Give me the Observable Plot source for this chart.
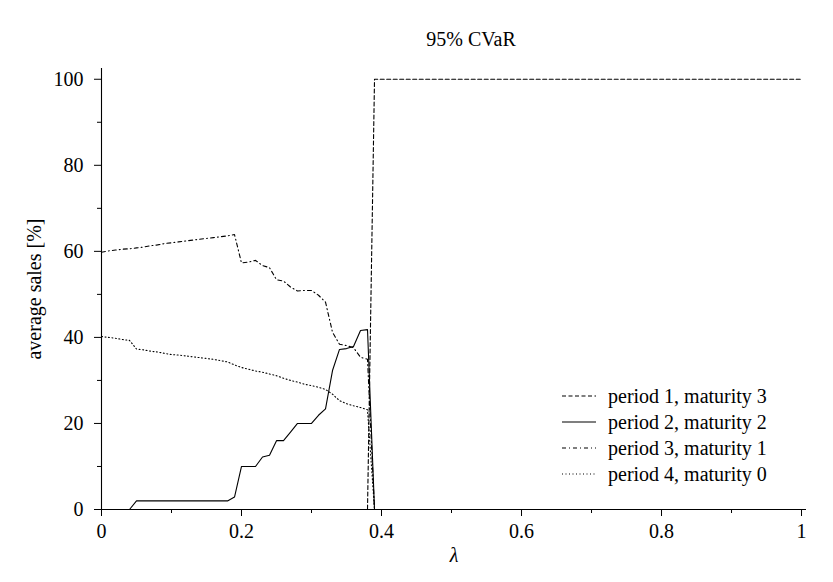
<!DOCTYPE html>
<html>
<head>
<meta charset="utf-8">
<script src="https://cdn.jsdelivr.net/npm/d3@7"></script>
<script src="https://cdn.jsdelivr.net/npm/@observablehq/plot@0.6"></script>
<style>
  html, body { margin: 0; padding: 0; background: #fff; }
  #wrap { position: relative; width: 833px; height: 582px; }
  #legend { position: absolute; left: 561px; top: 383px; font-family: "Liberation Serif", serif; font-size: 20px; color: #000; }
  #legend .row { display: flex; align-items: center; height: 26px; }
  #legend svg { margin-right: 11px; }
</style>
</head>
<body>
<div id="wrap"><div id="chart"></div><div id="legend"></div></div>
<script>
const lambdas = [0,0.01,0.02,0.03,0.04,0.05,0.06,0.07,0.08,0.09,0.10,0.11,0.12,0.13,0.14,0.15,0.16,0.17,0.18,0.19,0.20,0.21,0.22,0.23,0.24,0.25,0.26,0.27,0.28,0.29,0.30,0.31,0.32,0.33,0.34,0.35,0.36,0.37,0.38,0.39,1.0];
const period1 = [0,0,0,0,0,0,0,0,0,0,0,0,0,0,0,0,0,0,0,0,0,0,0,0,0,0,0,0,0,0,0,0,0,0,0,0,0,0,0,100,100];
const period2 = [0,0,0,0,0,2,2,2,2,2,2,2,2,2,2,2,2,2,2,2.9,10,10,10,12.2,12.6,16,16,18,20,20,20,21.9,23.4,32.3,37.2,37.4,37.9,41.6,41.8,0,0];
const period3 = [59.8,60.1,60.3,60.5,60.6,60.8,61.0,61.3,61.5,61.8,62.0,62.2,62.4,62.6,62.8,63.0,63.2,63.4,63.6,63.9,57.3,57.5,57.9,56.7,56.2,53.4,53.1,51.7,50.8,50.9,50.9,49.8,48.2,41.2,38.4,38.1,37.6,35.4,34.9,0,0];
const period4 = [40.2,40.0,39.8,39.5,39.3,37.3,37.1,36.8,36.6,36.3,36.0,35.9,35.7,35.5,35.3,35.1,34.9,34.6,34.3,33.6,33.0,32.6,32.2,31.9,31.5,31.1,30.5,30.0,29.6,29.1,28.8,28.4,27.9,26.8,25.3,24.6,24.1,23.7,23.2,0,0];
const seriesNames = ["period 1, maturity 3","period 2, maturity 2","period 3, maturity 1","period 4, maturity 0"];
const seriesDash = ["4,2.5", null, "4,3,1,3", "1,2.5"];
const xMajor = [0,0.2,0.4,0.6,0.8,1];
const xMinor = [0.1,0.3,0.5,0.7,0.9];
const yMajor = [0,20,40,60,80,100];
const yMinor = [10,30,50,70,90];
const titleText = "95% CVaR";
const xLabel = "λ";
const yLabel = "average sales [%]";

const allSeries = [period1, period2, period3, period4];
const lineMarks = allSeries.map((vals, i) =>
  Plot.line(lambdas.map((l, j) => ({x: l, y: vals[j]})), {
    x: "x", y: "y", stroke: "#000", strokeWidth: 1.1,
    strokeDasharray: seriesDash[i] || undefined
  })
);

const chart = Plot.plot({
  width: 833,
  height: 582,
  marginLeft: 101,
  marginRight: 27,
  marginTop: 68,
  marginBottom: 73,
  style: {fontFamily: "'Liberation Serif', serif", fontSize: "20px", color: "#000", background: "#fff"},
  x: {domain: [0, 1.0071], axis: null},
  y: {domain: [0, 102.5], axis: null},
  marks: [
    Plot.axisX(xMajor, {tickSize: 7, tickPadding: 7, label: null, tickFormat: d => String(d)}),
    Plot.axisX(xMinor, {tickSize: 4, label: null, tickFormat: () => ""}),
    Plot.axisY(yMajor, {tickSize: 7, tickPadding: 11, label: null}),
    Plot.axisY(yMinor, {tickSize: 4, label: null, tickFormat: () => ""}),
    Plot.ruleX([0], {stroke: "#000", strokeWidth: 1.1}),
    Plot.ruleY([0], {stroke: "#000", strokeWidth: 1.1}),
    ...lineMarks,
    Plot.text([titleText], {frameAnchor: "top", textAnchor: "middle", lineAnchor: "middle", dy: -29, dx: 17, ariaLabel: "title-text"}),
    Plot.text([yLabel], {frameAnchor: "left", textAnchor: "middle", lineAnchor: "middle", rotate: -90, dx: -67, ariaLabel: "ylabel-text"}),
    Plot.text([xLabel], {frameAnchor: "bottom", textAnchor: "middle", lineAnchor: "middle", dy: 46, fontStyle: "italic", ariaLabel: "xlabel-text"})
  ]
});
d3.select(chart).selectAll('g[aria-label="title-text"], g[aria-label="ylabel-text"], g[aria-label="xlabel-text"]')
  .style("font-size", "20px").style("font-family", "'Liberation Serif', serif");
d3.select(chart).selectAll('g[aria-label="ylabel-text"]').style("font-size", "21px");
d3.select(chart).selectAll('g[aria-label="xlabel-text"]').style("font-size", "22px");
document.getElementById("chart").appendChild(chart);

const legend = document.getElementById("legend");
seriesNames.forEach((name, i) => {
  const row = document.createElement("div");
  row.className = "row";
  const ns = "http://www.w3.org/2000/svg";
  const svg = document.createElementNS(ns, "svg");
  svg.setAttribute("width", "36");
  svg.setAttribute("height", "10");
  const ln = document.createElementNS(ns, "line");
  ln.setAttribute("x1", "1"); ln.setAttribute("x2", "35");
  ln.setAttribute("y1", "5"); ln.setAttribute("y2", "5");
  ln.setAttribute("stroke", "#000");
  ln.setAttribute("stroke-width", "1.1");
  if (seriesDash[i]) ln.setAttribute("stroke-dasharray", seriesDash[i]);
  svg.appendChild(ln);
  row.appendChild(svg);
  const span = document.createElement("span");
  span.textContent = name;
  row.appendChild(span);
  legend.appendChild(row);
});
</script>
</body>
</html>
